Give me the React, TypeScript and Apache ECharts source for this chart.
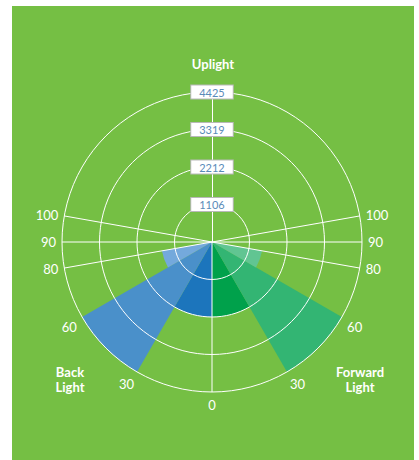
import React, { useEffect, useRef } from "react";
import * as echarts from "echarts";

// ---- data ----
const radiusMax = 4425;
const radiusStep = 1106.25;
const radiusLabels = ["", "1106", "2212", "3319", "4425"];

// sectors, angles measured from nadir (0 = straight down)
const backStart = [0, 30, 60];
const backEnd = [30, 60, 80];
const backValues = [2212, 4425, 1500];
const backColors = ["#1c75bc", "#4a90ca", "#74a9dc"];

const forwardStart = [0, 30, 60];
const forwardEnd = [30, 60, 80];
const forwardValues = [2212, 4425, 1500];
const forwardColors = ["#00a14b", "#33b573", "#61c592"];

const angleLabels = [0, 30, 60, 80, 90, 100];
const spokeAngles = [0, 80, 90, 100];

const BG = "#75bf44";
const FONT = "Lato, 'Open Sans', sans-serif";

// axis angle: startAngle 90 (up), clockwise; right side = forward
const toAxis = (nadir: number, side: number) => (side > 0 ? 180 - nadir : 180 + nadir);

export default function App() {
  const ref = useRef<HTMLDivElement>(null);
  useEffect(() => {
    if (!ref.current) return;
    const chart = echarts.init(ref.current, undefined, { renderer: "svg" });

    const sectorData: any[] = [];
    backValues.forEach((v, i) =>
      sectorData.push({ value: [v, backStart[i], backEnd[i], -1], itemStyle: { color: backColors[i] } })
    );
    forwardValues.forEach((v, i) =>
      sectorData.push({ value: [v, forwardStart[i], forwardEnd[i], 1], itemStyle: { color: forwardColors[i] } })
    );

    const spokeData: any[] = [];
    spokeAngles.forEach((a) => {
      spokeData.push([radiusMax, toAxis(a, -1)]);
      if (a !== 0) spokeData.push([radiusMax, toAxis(a, 1)]);
    });

    const option: any = {
      animation: false,
      backgroundColor: BG,
      polar: { center: [200, 236], radius: 150 },
      angleAxis: {
        type: "value",
        min: 0,
        max: 360,
        interval: 10,
        startAngle: 90,
        clockwise: true,
        axisLine: { show: false },
        axisTick: { show: false },
        splitLine: { show: false },
        axisLabel: {
          color: "#ffffff",
          fontFamily: FONT,
          fontSize: 13,
          margin: 6,
          formatter: (v: number) => {
            if (v === 0 || v === 360) return "";
            const n = Math.abs(180 - v);
            return angleLabels.includes(n) ? String(n) : "";
          },
        },
      },
      radiusAxis: {
        type: "value",
        min: 0,
        max: radiusMax,
        interval: radiusStep,
        z: 3,
        axisLine: { show: true, lineStyle: { color: "#ffffff", width: 1 } },
        axisTick: { show: false },
        splitLine: { show: true, lineStyle: { color: "#ffffff", width: 1 } },
        axisLabel: {
          showMinLabel: false,
          margin: 0,
          align: "center",
          verticalAlign: "middle",
          rotate: 0,
          color: "#5a8bb9",
          fontFamily: FONT,
          fontSize: 11,
          backgroundColor: "#ffffff",
          borderColor: "#b9b9b9",
          borderWidth: 1,
          padding: [1, 8, 1, 8],
          formatter: (v: number) => radiusLabels[Math.round(v / radiusStep)] || "",
        },
      },
      series: [
        {
          type: "custom",
          coordinateSystem: "polar",
          z: 2,
          data: sectorData,
          renderItem: (params: any, api: any) => {
            const cs = params.coordSys;
            const val = api.value(0);
            const side = api.value(3);
            const p1 = api.coord([val, toAxis(api.value(1), side)]);
            const p2 = api.coord([val, toAxis(api.value(2), side)]);
            const r = Math.hypot(p1[0] - cs.cx, p1[1] - cs.cy);
            const a1 = Math.atan2(p1[1] - cs.cy, p1[0] - cs.cx);
            const a2 = Math.atan2(p2[1] - cs.cy, p2[0] - cs.cx);
            let d = a2 - a1;
            while (d > Math.PI) d -= 2 * Math.PI;
            while (d <= -Math.PI) d += 2 * Math.PI;
            const s = d >= 0 ? a1 : a2;
            return {
              type: "sector",
              shape: { cx: cs.cx, cy: cs.cy, r0: 0, r, startAngle: s, endAngle: s + Math.abs(d), clockwise: true },
              style: { fill: api.visual("color") },
            };
          },
        },
        {
          type: "custom",
          coordinateSystem: "polar",
          z: 3,
          silent: true,
          data: spokeData,
          renderItem: (params: any, api: any) => {
            const cs = params.coordSys;
            const p = api.coord([api.value(0), api.value(1)]);
            return {
              type: "line",
              shape: { x1: cs.cx, y1: cs.cy, x2: p[0], y2: p[1] },
              style: { stroke: "#ffffff", lineWidth: 1 },
            };
          },
        },
      ],
      graphic: [
        {
          type: "text",
          x: 201,
          y: 58,
          style: { text: "Uplight", fill: "#ffffff", font: `bold 13px ${FONT}`, textAlign: "center", textVerticalAlign: "middle" },
        },
        {
          type: "text",
          x: 58,
          y: 373,
          style: {
            text: "Back\nLight",
            fill: "#ffffff",
            font: `bold 13px ${FONT}`,
            lineHeight: 15,
            textAlign: "center",
            textVerticalAlign: "middle",
          },
        },
        {
          type: "text",
          x: 348,
          y: 373,
          style: {
            text: "Forward\nLight",
            fill: "#ffffff",
            font: `bold 13px ${FONT}`,
            lineHeight: 15,
            textAlign: "center",
            textVerticalAlign: "middle",
          },
        },
      ],
    };
    chart.setOption(option);
    return () => chart.dispose();
  }, []);

  return (
    <div style={{ position: "fixed", left: 0, top: 0, width: 419, height: 460, background: "#ffffff" }}>
      <div ref={ref} style={{ position: "absolute", left: 12, top: 6, width: 402, height: 454 }} />
    </div>
  );
}
